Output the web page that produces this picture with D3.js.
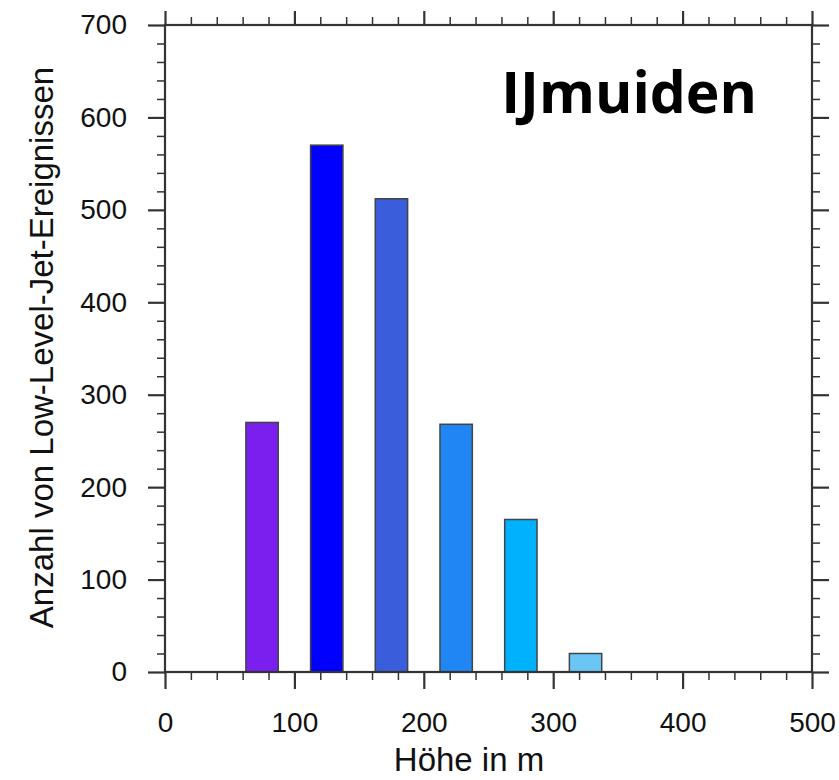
<!DOCTYPE html>
<html>
<head>
<meta charset="utf-8">
<script src="https://cdn.jsdelivr.net/npm/d3@7"></script>
<style>
  body { margin: 0; background: #fff; }
  svg { display: block; }
  .tick text { font-family: "Liberation Sans", Arial, sans-serif; fill: #111; }
</style>
</head>
<body>
<svg id="chart"></svg>
<script>
// Histogram of LLJ heights at IJmuiden
const heights = [75, 125, 175, 225, 275, 325];
const counts = [270, 570, 512, 268, 165, 20];
const barColors = ["#7a1fee", "#0000ff", "#3a5ddb", "#2086f4", "#00b2fe", "#6ac6f4"];
const xTicks = [0, 100, 200, 300, 400, 500];
const yTicks = [0, 100, 200, 300, 400, 500, 600, 700];

const width = 839, height = 780;
const margin = {top: 25, right: 27, bottom: 108, left: 165};
const binWidth = 50;

const svg = d3.select("#chart").attr("width", width).attr("height", height);

const x = d3.scaleLinear().domain([0, 500]).range([margin.left, width - margin.right]);
const y = d3.scaleLinear().domain([0, 700]).range([height - margin.bottom, margin.top]);

const minorX = d3.range(0, 501, 20).filter(v => v % 100 !== 0);
const minorY = d3.range(0, 701, 20).filter(v => v % 100 !== 0);

// bars
svg.append("g")
    .selectAll("rect")
    .data(heights)
    .enter()
    .append("rect")
    .attr("x", (d) => x(d - binWidth / 4))
    .attr("width", x(binWidth / 2) - x(0))
    .attr("y", (d, i) => y(counts[i]))
    .attr("height", (d, i) => y(0) - y(counts[i]))
    .attr("fill", (d, i) => barColors[i])
    .attr("stroke", "#444")
    .attr("stroke-width", 1.5);

function styleAxis(g, w) {
    g.select(".domain").remove();
    g.selectAll(".tick line").attr("stroke", "#333").attr("stroke-width", w);
}

// minor ticks
svg.append("g").attr("transform", `translate(0,${y(0)})`)
    .call(d3.axisBottom(x).tickValues(minorX).tickSize(8).tickFormat(""))
    .call(g => styleAxis(g, 1.5));
svg.append("g").attr("transform", `translate(0,${y(700)})`)
    .call(d3.axisTop(x).tickValues(minorX).tickSize(8).tickFormat(""))
    .call(g => styleAxis(g, 1.5));
svg.append("g").attr("transform", `translate(${x(0)},0)`)
    .call(d3.axisLeft(y).tickValues(minorY).tickSize(8).tickFormat(""))
    .call(g => styleAxis(g, 1.5));
svg.append("g").attr("transform", `translate(${x(500)},0)`)
    .call(d3.axisRight(y).tickValues(minorY).tickSize(8).tickFormat(""))
    .call(g => styleAxis(g, 1.5));

// major ticks
svg.append("g").attr("transform", `translate(0,${y(0)})`)
    .call(d3.axisBottom(x).tickValues(xTicks).tickSize(17).tickPadding(23).tickFormat(d3.format("d")))
    .call(g => styleAxis(g, 2.2))
    .call(g => g.selectAll(".tick text").attr("font-size", 28));
svg.append("g").attr("transform", `translate(0,${y(700)})`)
    .call(d3.axisTop(x).tickValues(xTicks).tickSize(14).tickFormat(""))
    .call(g => styleAxis(g, 2.2));
svg.append("g").attr("transform", `translate(${x(0)},0)`)
    .call(d3.axisLeft(y).tickValues(yTicks).tickSize(17).tickPadding(21).tickFormat(d3.format("d")))
    .call(g => styleAxis(g, 2.2))
    .call(g => g.selectAll(".tick text").attr("font-size", 28));
svg.append("g").attr("transform", `translate(${x(500)},0)`)
    .call(d3.axisRight(y).tickValues(yTicks).tickSize(17).tickFormat(""))
    .call(g => styleAxis(g, 2.2));

// frame
svg.append("rect")
    .attr("x", x(0))
    .attr("y", y(700))
    .attr("width", x(500) - x(0))
    .attr("height", y(0) - y(700))
    .attr("fill", "none")
    .attr("stroke", "#333")
    .attr("stroke-width", 2.2);

// axis titles
svg.append("text")
    .attr("x", 469)
    .attr("y", 771)
    .attr("text-anchor", "middle")
    .style("font-family", "'Liberation Sans', Arial, sans-serif")
    .style("font-size", "33px")
    .attr("fill", "#111")
    .text("Höhe in m");

svg.append("text")
    .attr("transform", `translate(53, ${(y(0) + y(700)) / 2 - 1}) rotate(-90)`)
    .attr("text-anchor", "middle")
    .style("font-family", "'Liberation Sans', Arial, sans-serif")
    .style("font-size", "33px")
    .attr("fill", "#111")
    .text("Anzahl von Low-Level-Jet-Ereignissen");

// station label
svg.append("text")
    .attr("x", 757)
    .attr("y", 113)
    .attr("text-anchor", "end")
    .style("font-family", "'Open Sans', sans-serif")
    .style("font-weight", "700")
    .style("font-size", "57px")
    .attr("fill", "#000")
    .text("IJmuiden");
</script>
</body>
</html>
